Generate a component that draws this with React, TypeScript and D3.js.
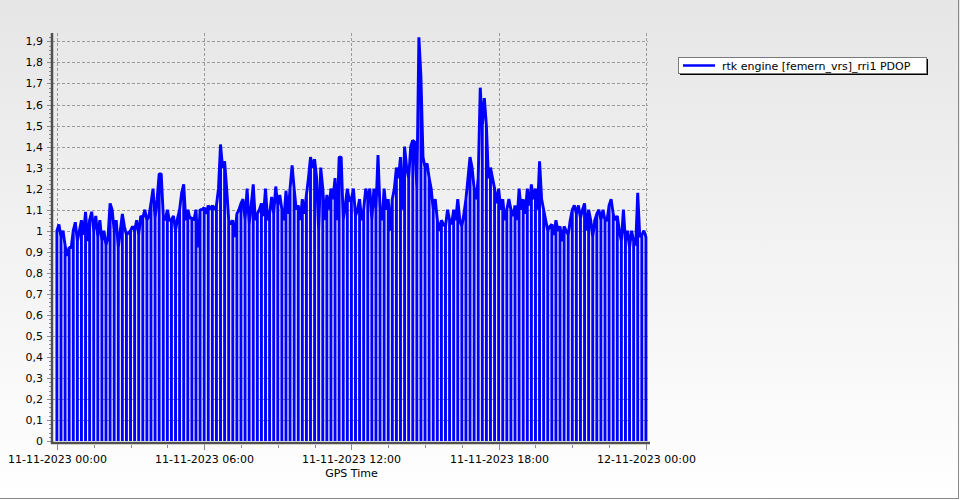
import React from "react";
import * as d3 from "d3";

// PDOP samples every 5 minutes starting 11-11-2023 00:00 (GPS time)
const pdop: number[] = [
  1.0, 1.03,
  0.97, 1.0, 0.93, 0.88, 0.92,
  0.92, 1.0, 1.04, 0.95, 1.0,
  1.05, 0.98, 1.09, 0.95, 1.05,
  1.09, 1.0, 1.07, 0.97, 1.05,
  0.95, 1.0, 0.93, 0.97,
  1.13, 1.1, 1.0, 1.05, 0.92,
  1.0, 1.08, 1.02, 0.98, 0.99,
  1.0, 1.02, 1.0, 1.05, 0.98,
  1.07, 1.06, 1.1, 1.05, 1.07,
  1.13, 1.2, 1.06, 1.15, 1.27,
  1.27, 1.07, 1.05, 1.1, 1.05,
  1.05, 1.07, 1.0, 1.06, 1.1,
  1.18, 1.22, 1.05, 1.1, 1.06,
  1.06, 1.05, 1.1, 0.92, 1.1,
  1.1, 1.11, 1.08, 1.12,
  1.1, 1.12, 1.1, 1.12, 1.2,
  1.41, 1.3, 1.33, 1.2, 1.05,
  1.03, 1.05, 0.97, 1.08, 1.1,
  1.13, 1.15, 1.05, 1.2, 1.03,
  1.12, 1.22, 1.05, 1.08, 1.1,
  1.13, 1.07, 1.2, 1.05, 1.08,
  1.16, 1.08, 1.21, 1.12, 1.17,
  1.1, 1.05, 1.19, 1.08, 1.2,
  1.31, 1.2, 1.1, 1.12, 1.05,
  1.15, 1.08, 1.17, 1.25,
  1.35, 1.3, 1.34, 1.25, 1.0,
  1.3, 1.2, 1.05, 1.17, 1.1,
  1.2, 1.15, 1.25, 1.05, 1.35,
  1.35, 1.05, 1.12, 1.2, 1.14,
  1.15, 1.2, 1.07, 1.1, 1.15,
  1.05, 1.1, 1.2, 1.15,
  1.2, 1.05, 1.2, 1.1, 1.36,
  1.1, 1.05, 1.2, 1.1, 1.15,
  1.0, 1.15, 1.2, 1.3, 1.25,
  1.35, 1.1, 1.4, 1.3, 1.25,
  1.4, 1.43, 1.42, 1.2, 1.92,
  1.73, 1.35, 1.3, 1.32, 1.25,
  1.2, 1.1, 1.15, 1.05, 1.0,
  1.05, 1.03, 1.02, 1.1, 1.05,
  1.03, 1.1, 1.05, 1.15, 1.05,
  1.02, 1.08, 1.15, 1.25, 1.35,
  1.3, 1.2, 1.15, 1.25, 1.68,
  1.5, 1.63, 1.5, 1.25, 1.3,
  1.25, 1.2, 1.13, 1.2, 1.1,
  1.15, 1.05, 1.1, 1.15,
  1.1, 1.07, 1.12, 1.05, 1.2,
  1.1, 1.15, 1.08, 1.2, 1.12,
  1.22, 1.15, 1.2, 1.1, 1.33,
  1.15, 1.1, 1.05, 1.0, 1.02,
  1.03, 0.98, 1.05, 1.0, 1.02,
  0.95, 1.02, 1.0, 0.98, 1.05,
  1.1, 1.12, 1.08, 1.12, 1.06,
  1.1, 1.13, 1.0, 1.1, 1.05,
  0.97, 1.05, 1.08, 1.1, 1.05,
  1.1, 1.05, 1.05, 1.12,
  1.15, 1.08, 1.05, 1.07, 1.0,
  0.95, 1.1, 0.95, 1.0, 0.92,
  1.0, 0.95, 0.93, 1.18, 0.97,
  0.98, 1.0, 0.97,
];

const START = Date.UTC(2023, 10, 11, 0, 0);
const SAMPLE_MIN = 5;
// receiver outage: PDOP reported as 0 on every 2nd sample (every 10 minutes)
const DROPOUT_EVERY = 2;

const xTickHours = [0, 6, 12, 18, 24];
const xMinorHours = [1.5, 3, 4.5, 7.5, 9, 10.5, 13.5, 15, 16.5, 19.5, 21, 22.5];
const yTicks = [0, 0.1, 0.2, 0.3, 0.4, 0.5, 0.6, 0.7, 0.8, 0.9, 1, 1.1, 1.2, 1.3, 1.4, 1.5, 1.6, 1.7, 1.8, 1.9];
const seriesName = "rtk engine [femern_vrs]_rri1 PDOP";
const xTitle = "GPS Time";

const MIN = 60 * 1000;
const HOUR = 60 * MIN;

export default function App() {
  const W = 960, H = 500;
  const left = 52, right = 650, top = 33, bottom = 441;

  const x = d3
    .scaleUtc()
    .domain([new Date(START - 12 * MIN), new Date(START + 24 * HOUR + 10 * MIN)])
    .range([left, right]);
  const y = d3.scaleLinear().domain([0, 1.94]).range([bottom, top]);

  type P = { t: Date; v: number };
  const pts: P[] = [];
  pdop.forEach((v, i) => {
    const t = new Date(START + i * SAMPLE_MIN * MIN);
    pts.push({ t, v });
    if (i % DROPOUT_EVERY === 0) {
      pts.push({ t, v: 0 });
      pts.push({ t, v });
    }
  });
  const line = d3
    .line<P>()
    .x((d) => x(d.t))
    .y((d) => y(d.v));

  const fmtX = d3.utcFormat("%d-%m-%Y %H:%M");
  const fmtY = (v: number) =>
    Math.abs(v - Math.round(v)) < 1e-9 ? String(Math.round(v)) : v.toFixed(1).replace(".", ",");

  const minorY: number[] = d3.range(0, 97).map((k) => k * 0.02).filter((v) => v <= 1.94);

  const font = "'DejaVu Sans', Verdana, sans-serif";

  return (
    <svg
      width={W}
      height={H}
      style={{ position: "absolute", left: 0, top: 0, display: "block" }}
      fontFamily={font}
    >
      <defs>
        <linearGradient id="bg" x1="0" y1="0" x2="0" y2="1">
          <stop offset="0" stopColor="#e6e6e6" />
          <stop offset="1" stopColor="#ffffff" />
        </linearGradient>
      </defs>
      <rect x={0} y={0} width={W} height={H} fill="url(#bg)" />
      <line x1={958.5} y1={0} x2={958.5} y2={499} stroke="#8a8a8a" strokeWidth={1} />
      <line x1={0} y1={498.5} x2={959} y2={498.5} stroke="#8a8a8a" strokeWidth={1} />

      {/* grid */}
      {yTicks.filter((v) => v > 0).map((v) => (
        <line
          key={"gy" + v}
          x1={left}
          x2={right - 2}
          y1={Math.round(y(v)) + 0.5}
          y2={Math.round(y(v)) + 0.5}
          stroke="#9a9a9a"
          strokeDasharray="3,2"
          strokeWidth={1}
        />
      ))}
      {xTickHours.map((h) => {
        const xx = Math.round(x(new Date(START + h * HOUR))) + 0.5;
        return (
          <line
            key={"gx" + h}
            x1={xx}
            x2={xx}
            y1={top}
            y2={bottom}
            stroke="#9a9a9a"
            strokeDasharray="3,2"
            strokeWidth={1}
          />
        );
      })}

      {/* series */}
      <path
        d={line(pts) || ""}
        fill="none"
        stroke="#0000ff"
        strokeWidth={2.9}
        strokeLinejoin="bevel"
        strokeLinecap="butt"
      />

      {/* y axis */}
      {minorY.map((v, i) => (
        <line
          key={"my" + i}
          x1={49}
          x2={52}
          y1={Math.round(y(v)) + 0.5}
          y2={Math.round(y(v)) + 0.5}
          stroke="#8c8c8c"
        />
      ))}
      {yTicks.map((v) => (
        <g key={"ty" + v}>
          <line x1={47} x2={52} y1={Math.round(y(v)) + 0.5} y2={Math.round(y(v)) + 0.5} stroke="#8c8c8c" />
          <text x={43} y={y(v) + 4} textAnchor="end" fontSize={11} fill="#000">
            {fmtY(v)}
          </text>
        </g>
      ))}
      <line x1={52} x2={52} y1={top} y2={444} stroke="#505050" strokeWidth={2.5} />

      {/* x axis */}
      <line x1={51} x2={right} y1={443} y2={443} stroke="#505050" strokeWidth={2.5} />
      {xMinorHours.map((h) => {
        const xx = Math.round(x(new Date(START + h * HOUR))) + 0.5;
        return <line key={"mx" + h} x1={xx} x2={xx} y1={445} y2={448} stroke="#8c8c8c" />;
      })}
      {xTickHours.map((h) => {
        const d = new Date(START + h * HOUR);
        const xx = Math.round(x(d)) + 0.5;
        return (
          <g key={"tx" + h}>
            <line x1={xx} x2={xx} y1={444} y2={450} stroke="#8c8c8c" />
            <text x={xx} y={463} textAnchor="middle" fontSize={11} fill="#000">
              {fmtX(d)}
            </text>
          </g>
        );
      })}
      <text x={x(new Date(START + 12 * HOUR))} y={477} textAnchor="middle" fontSize={11} fill="#000">
        {xTitle}
      </text>

      {/* legend */}
      <rect x={680} y={59} width={248} height={16} fill="#000" />
      <rect x={678.5} y={57.5} width={248} height={16} fill="#fff" stroke="#7a7a7a" />
      <line x1={683} x2={715} y1={65.5} y2={65.5} stroke="#0000ff" strokeWidth={2.5} />
      <text x={722} y={69.5} fontSize={11} fill="#000">
        {seriesName}
      </text>
    </svg>
  );
}
